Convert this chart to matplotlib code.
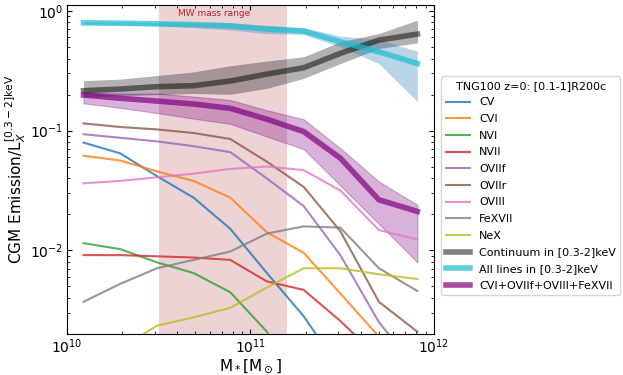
import numpy as np
import matplotlib.pyplot as plt

# stellar mass bins (log10 Msun)
log_mstar = [10.09, 10.29, 10.49, 10.69, 10.89, 11.09, 11.29, 11.49, 11.70, 11.91]

# log10 of fraction of CGM emission, one per line
lines = {
    'CV':     [-1.10, -1.19, -1.38, -1.56, -1.82, -2.19, -2.55, -3.00, -3.40, -3.80],
    'CVI':    [-1.21, -1.25, -1.34, -1.42, -1.56, -1.85, -2.02, -2.36, -2.72, -3.10],
    'NVI':    [-1.94, -1.99, -2.10, -2.19, -2.35, -2.68, -3.20, -3.60, -4.00, -4.40],
    'NVII':   [-2.04, -2.04, -2.05, -2.06, -2.08, -2.26, -2.33, -2.59, -2.90, -3.20],
    'OVIIf':  [-1.03, -1.06, -1.09, -1.13, -1.18, -1.40, -1.63, -2.04, -2.60, -3.00],
    'OVIIr':  [-0.94, -0.97, -0.99, -1.02, -1.07, -1.26, -1.47, -1.84, -2.43, -2.68],
    'OVIII':  [-1.44, -1.42, -1.39, -1.36, -1.32, -1.30, -1.33, -1.50, -1.83, -1.91],
    'FeXVII': [-2.43, -2.28, -2.15, -2.08, -2.01, -1.86, -1.80, -1.81, -2.15, -2.34],
    'NeX':    [-3.00, -2.82, -2.63, -2.56, -2.48, -2.31, -2.15, -2.15, -2.20, -2.24],
}

continuum = [-0.667, -0.653, -0.633, -0.625, -0.586, -0.528, -0.475, -0.355, -0.244, -0.194]
continuum_hi = [-0.583, -0.570, -0.540, -0.510, -0.458, -0.419, -0.383, -0.258, -0.189, -0.078]
continuum_lo = [-0.717, -0.710, -0.700, -0.690, -0.697, -0.647, -0.564, -0.440, -0.314, -0.267]

all_lines = [-0.100, -0.103, -0.108, -0.114, -0.125, -0.152, -0.169, -0.258, -0.342, -0.440]
all_lines_hi = [-0.090, -0.092, -0.095, -0.098, -0.100, -0.120, -0.140, -0.210, -0.240, -0.336]
all_lines_lo = [-0.110, -0.115, -0.125, -0.140, -0.160, -0.190, -0.197, -0.300, -0.440, -0.758]

summed = [-0.703, -0.730, -0.753, -0.778, -0.814, -0.905, -1.008, -1.230, -1.578, -1.675]
summed_hi = [-0.683, -0.690, -0.690, -0.716, -0.744, -0.830, -0.905, -1.147, -1.425, -1.620]
summed_lo = [-0.772, -0.810, -0.853, -0.900, -0.944, -1.050, -1.155, -1.460, -1.780, -2.100]

mstar = 10 ** np.array(log_mstar)

fig = plt.figure(figsize=(6.23, 3.75), dpi=100)
ax = fig.add_axes([0.1075, 0.1093, 0.589, 0.8774])

ax.axvspan(10**10.5, 10**11.2, color='brown', alpha=0.2, lw=0, zorder=0)
ax.text(10**10.8, 0.95, 'MW mass range', color='firebrick', fontsize=6.5,
        ha='center', va='center')

for i, (name, vals) in enumerate(lines.items()):
    ax.plot(mstar, 10 ** np.array(vals), color='C%d' % i, lw=1.5, alpha=0.8, label=name)

ax.fill_between(mstar, 10 ** np.array(continuum_lo), 10 ** np.array(continuum_hi),
                color='k', alpha=0.3, lw=0)
ax.plot(mstar, 10 ** np.array(continuum), color='k', lw=4, alpha=0.5,
        label='Continuum in [0.3-2]keV')

ax.fill_between(mstar, 10 ** np.array(all_lines_lo), 10 ** np.array(all_lines_hi),
                color='tab:blue', alpha=0.3, lw=0)
ax.plot(mstar, 10 ** np.array(all_lines), color='tab:cyan', lw=4, alpha=0.7,
        label='All lines in [0.3-2]keV')

ax.fill_between(mstar, 10 ** np.array(summed_lo), 10 ** np.array(summed_hi),
                color='purple', alpha=0.3, lw=0.8)
ax.plot(mstar, 10 ** np.array(summed), color='purple', lw=4, alpha=0.7,
        label='CVI+OVIIf+OVIII+FeXVII')

ax.set_xscale('log')
ax.set_yscale('log')
ax.set_xlim(1e10, 1e12)
ax.set_ylim(2e-3, 1.12)
ax.tick_params(which='both', direction='in', top=True, right=True, labelsize=10, pad=2.5)
ax.set_xlabel(r'M$_*$[M$_\odot$]', fontsize=11, labelpad=1)
ax.set_ylabel(r'CGM Emission/L$_X^{[0.3-2]\mathrm{keV}}$', fontsize=11, labelpad=2)

ax.legend(title='TNG100 z=0: [0.1-1]R200c', fontsize=8, title_fontsize=8,
          loc='upper left', bbox_to_anchor=(1.005, 0.80), handlelength=2.2,
          borderpad=0.4, labelspacing=0.6, framealpha=0.8)

plt.savefig('out.png', dpi=100)
